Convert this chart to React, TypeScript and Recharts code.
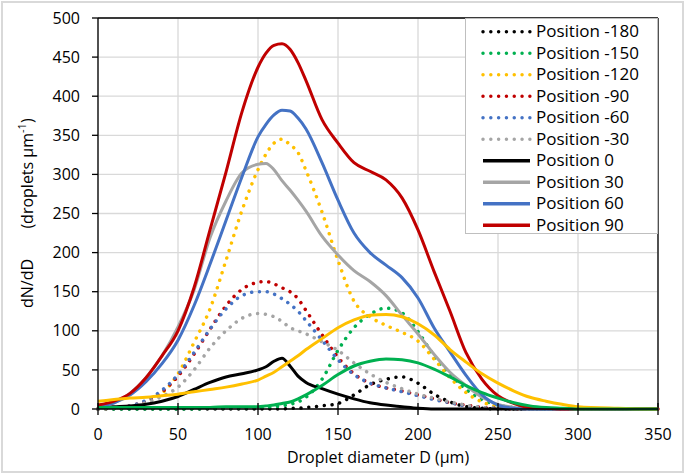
import React from 'react';
import { LineChart, Line, XAxis, YAxis, CartesianGrid, ReferenceLine } from 'recharts';

// Droplet diameter D (µm)
const D = [0, 10, 20, 30, 40, 50, 60, 70, 80, 90, 100, 105, 110, 115, 120, 125, 130, 140, 150, 160, 170, 180, 190, 200, 210, 220, 230, 240, 250, 260, 270, 280, 290, 300, 325, 350];

const posM180 = [0, 0, 0, 0, 0, 0, 0, 0, 0, 0, 0, 0, 0, 0, 1, 1, 2, 4, 7, 18, 31, 38, 41, 33, 19, 9, 3, 1, 0, 0, 0, 0, 0, 0, 0, 0];
const posM150 = [0, 0, 0, 0, 0, 0, 0, 1, 1, 1, 2, 2, 3, 4, 6, 9, 15, 38, 75, 104, 121, 129, 123, 99, 68, 44, 25, 12, 5, 2, 1, 0, 0, 0, 0, 0];
const posM120 = [0, 1, 3, 8, 20, 45, 85, 128, 190, 254, 306, 326, 340, 345, 338, 328, 305, 252, 190, 138, 118, 107, 98, 87, 64, 40, 21, 9, 3, 1, 0, 0, 0, 0, 0, 0];
const posM90 = [0, 1, 4, 10, 22, 42, 70, 102, 132, 153, 162, 163, 160, 155, 150, 141, 126, 95, 66, 45, 33, 27, 23, 18, 13, 8, 5, 2, 1, 0, 0, 0, 0, 0, 0, 0];
const posM60 = [0, 1, 4, 11, 24, 44, 72, 102, 128, 145, 150, 150, 147, 141, 134, 125, 113, 88, 63, 44, 33, 27, 22, 17, 12, 8, 4, 2, 1, 0, 0, 0, 0, 0, 0, 0];
const posM30 = [0, 1, 3, 8, 16, 28, 50, 78, 100, 116, 122, 121, 118, 112, 104, 100, 96, 86, 75, 59, 45, 34, 26, 19, 14, 9, 5, 2, 1, 0, 0, 0, 0, 0, 0, 0];
const pos0 = [2, 3, 4, 6, 10, 16, 25, 34, 41, 45, 50, 54, 61, 65, 55, 42, 34, 26, 19, 13, 8, 5, 3, 1, 0, 0, 0, 0, 0, 0, 0, 0, 0, 0, 0, 0];
const pos30 = [3, 8, 20, 40, 68, 105, 152, 219, 266, 302, 313, 314, 306, 292, 280, 267, 253, 221, 197, 177, 163, 145, 120, 96, 70, 47, 30, 15, 6, 2, 0, 0, 0, 0, 0, 0];
const pos60 = [3, 8, 18, 35, 58, 88, 132, 185, 241, 297, 348, 364, 376, 382, 381, 372, 358, 315, 267, 225, 200, 184, 168, 142, 104, 73, 43, 18, 5, 1, 0, 0, 0, 0, 0, 0];
const pos90 = [5, 10, 20, 40, 68, 100, 155, 229, 303, 380, 437, 455, 465, 467, 460, 443, 420, 370, 340, 315, 304, 293, 270, 229, 176, 125, 72, 38, 17, 7, 2, 1, 0, 0, 0, 0];
const pos120 = [10, 12, 14, 15, 17, 19, 22, 25, 28, 32, 37, 42, 47, 54, 61, 68, 76, 90, 104, 114, 120, 121, 118, 109, 95, 76, 60, 45, 33, 23, 15, 10, 6, 3, 1, 0];
const pos150 = [2, 2, 2, 2, 2, 2, 2, 2, 3, 3, 3, 4, 5, 7, 9, 13, 18, 30, 44, 55, 61, 64, 63, 59, 51, 41, 30, 21, 14, 8, 4, 2, 1, 0, 0, 0];

const X_TICKS = [0, 50, 100, 150, 200, 250, 300, 350];
const Y_TICKS = [0, 50, 100, 150, 200, 250, 300, 350, 400, 450, 500];

const SERIES = [
  { key: 'm180', name: 'Position -180', values: posM180, color: '#000000', dotted: true, legend: true },
  { key: 'm150', name: 'Position -150', values: posM150, color: '#00B050', dotted: true, legend: true },
  { key: 'm120', name: 'Position -120', values: posM120, color: '#FFC000', dotted: true, legend: true },
  { key: 'm90', name: 'Position -90', values: posM90, color: '#C00000', dotted: true, legend: true },
  { key: 'm60', name: 'Position -60', values: posM60, color: '#4472C4', dotted: true, legend: true },
  { key: 'm30', name: 'Position -30', values: posM30, color: '#A5A5A5', dotted: true, legend: true },
  { key: 'p0', name: 'Position 0', values: pos0, color: '#000000', dotted: false, legend: true },
  { key: 'p30', name: 'Position 30', values: pos30, color: '#A5A5A5', dotted: false, legend: true },
  { key: 'p60', name: 'Position 60', values: pos60, color: '#4472C4', dotted: false, legend: true },
  { key: 'p90', name: 'Position 90', values: pos90, color: '#C00000', dotted: false, legend: true },
  { key: 'p120', name: 'Position 120', values: pos120, color: '#FFC000', dotted: false, legend: false },
  { key: 'p150', name: 'Position 150', values: pos150, color: '#00B050', dotted: false, legend: false },
];

const data = D.map((d, i) => {
  const row: any = { D: d };
  SERIES.forEach((s) => { row[s.key] = s.values[i]; });
  return row;
});

const FONT = "'Open Sans', 'Noto Sans', sans-serif";
const DOT_DASH = '0.01 7.8';
const X_TICK_SIZE = 6;
const X_TICK_MARGIN = 14;

const XTick = (props: any) => {
  const { x, y, payload } = props;
  const axisY = y - X_TICK_SIZE - X_TICK_MARGIN;
  return (
    <g>
      <line x1={x} x2={x} y1={axisY - 6} y2={axisY + 6} stroke="#000" strokeWidth={1.3} />
      <text x={x} y={y} dy="0.71em" textAnchor="middle" fontSize={16} fill="#000" fontFamily={FONT}>
        {payload.value}
      </text>
    </g>
  );
};

const YLabel = (props: any) => {
  const vb = props.viewBox || { x: 0, y: 18, width: 98, height: 391 };
  const cx = vb.x + 33;
  const mid = vb.y + vb.height / 2;
  const y1 = mid + 70;
  const y2 = mid - 40;
  return (
    <g>
      <text
        x={cx}
        y={y1}
        transform={`rotate(-90 ${cx} ${y1})`}
        textAnchor="middle"
        fontSize={16}
        fill="#000"
        fontFamily={FONT}
      >
        dN/dD
      </text>
      <text
        x={cx}
        y={y2}
        transform={`rotate(-90 ${cx} ${y2})`}
        textAnchor="middle"
        fontSize={16}
        fill="#000"
        fontFamily={FONT}
      >
        <tspan>(droplets µm</tspan>
        <tspan dy={-7} fontSize={11}>-1</tspan>
        <tspan dy={7} fontSize={16}>)</tspan>
      </text>
    </g>
  );
};

const XLabel = (props: any) => {
  const vb = props.viewBox || { x: 98, y: 409, width: 560, height: 65 };
  return (
    <text x={vb.x + vb.width / 2} y={vb.y + 54} textAnchor="middle" fontSize={16} fill="#000" fontFamily={FONT}>
      Droplet diameter D (µm)
    </text>
  );
};

const LEGEND_ROW = 21.5;
const legendItems = SERIES.filter((s) => s.legend);

const LegendBox = () => (
  <svg
    width={193}
    height={216}
    style={{ position: 'absolute', left: 465, top: 18, background: '#fff', overflow: 'visible' }}
  >
    <rect x={0.5} y={0.5} width={192} height={215} fill="#fff" stroke="#bfbfbf" strokeWidth={1} />
    {legendItems.map((s, i) => {
      const cy = 13.7 + i * LEGEND_ROW;
      return (
        <g key={s.key}>
          <line
            x1={18}
            x2={65}
            y1={cy}
            y2={cy}
            stroke={s.color}
            strokeWidth={3.5}
            strokeDasharray={s.dotted ? DOT_DASH : undefined}
            strokeLinecap={s.dotted ? 'round' : 'butt'}
          />
          <text x={71} y={cy + 5.5} fontSize={17} fill="#000" fontFamily={FONT}>
            {s.name}
          </text>
        </g>
      );
    })}
  </svg>
);

export default function App() {
  return (
    <div style={{ position: 'absolute', left: 0, top: 0, width: 685, height: 474, background: '#fff', fontFamily: FONT }}>
      <LineChart
        width={685}
        height={474}
        data={data}
        margin={{ top: 18, right: 27, left: 0, bottom: 0 }}
      >
        <CartesianGrid stroke="#d9d9d9" strokeWidth={1.3} />
        <XAxis
          type="number"
          dataKey="D"
          domain={[0, 350]}
          ticks={X_TICKS}
          interval={0}
          height={65}
          tickSize={X_TICK_SIZE}
          tickMargin={X_TICK_MARGIN}
          tickLine={false}
          tick={<XTick />}
          axisLine={{ stroke: '#000', strokeWidth: 1.3 }}
          label={{ content: <XLabel /> } as any}
        />
        <YAxis
          type="number"
          domain={[0, 500]}
          ticks={Y_TICKS}
          interval={0}
          width={98}
          tickSize={6}
          tickMargin={12}
          tick={{ fontSize: 16, fill: '#000', fontFamily: FONT }}
          tickLine={{ stroke: '#000', strokeWidth: 1.3 }}
          axisLine={{ stroke: '#000', strokeWidth: 1.3 }}
          label={{ content: <YLabel /> } as any}
        />
        <ReferenceLine y={500} stroke="#000" strokeWidth={1.3} ifOverflow="extendDomain" />
        <ReferenceLine x={350} stroke="#000" strokeWidth={1.3} ifOverflow="extendDomain" />
        {SERIES.map((s) => (
          <Line
            key={s.key}
            type="monotone"
            dataKey={s.key}
            name={s.name}
            stroke={s.color}
            strokeWidth={s.dotted ? 3.5 : 3}
            strokeDasharray={s.dotted ? DOT_DASH : undefined}
            strokeLinecap={s.dotted ? 'round' : 'butt'}
            dot={false}
            activeDot={false}
            isAnimationActive={false}
          />
        ))}
      </LineChart>
      <LegendBox />
      <div
        style={{
          position: 'absolute',
          left: 1,
          top: 1,
          width: 683,
          height: 472,
          border: '2px solid #d9d9d9',
          boxSizing: 'border-box',
          pointerEvents: 'none',
        }}
      />
    </div>
  );
}
